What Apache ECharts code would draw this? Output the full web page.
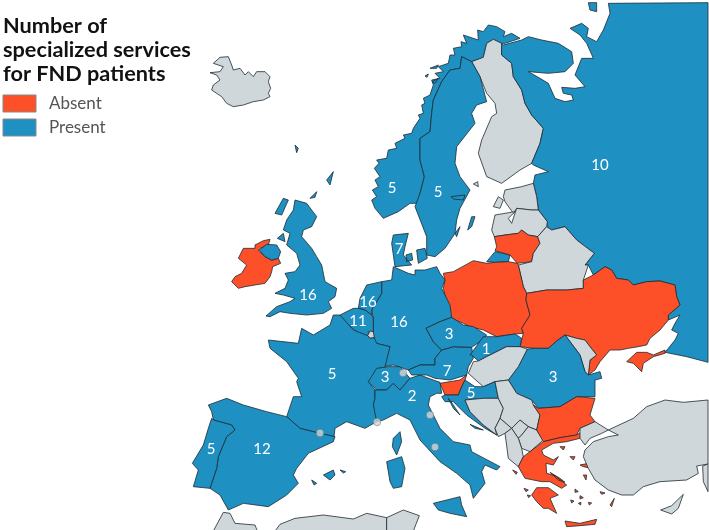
<!DOCTYPE html>
<html><head><meta charset="utf-8">
<style>html,body{margin:0;padding:0;background:#fff}#c{width:709px;height:530px}</style>
<script src="https://cdn.jsdelivr.net/npm/echarts@6/dist/echarts.min.js"></script>
</head><body><div id="c"></div>
<script>
// ---- values ----
const absentCountries = ['Ireland','Poland','Lithuania','Ukraine','Crimea','Slovenia','Bulgaria','Greece'];
const presentCountries = ['Norway','Sweden','Russia','Denmark','United Kingdom','Netherlands','Belgium','Germany','Czechia','Slovakia','Austria','Switzerland','Italy','France','Spain','Portugal','Croatia','Romania'];
const presentCounts = [5,5,10,7,16,16,11,16,3,1,7,3,2,5,12,5,5,3];
const legendLabels = ['Absent','Present'];
const titleLines = ['Number of','specialized services','for FND patients'];
const microstates = ['Liechtenstein','Monaco','Andorra','San Marino','Vatican'];

// ---- traced outlines (map geometry) : each segment is "crop: x,y x,y" in zoom-crop coordinates
const crops = {1:[0,0],2:[355,0],3:[180,265],4:[420,265],5:[340,230]};
function ring(segs){const out=[];segs.forEach(s=>{const [k,r]=s.split(':');const o=crops[k];
  r.trim().split(/\s+/).forEach(t=>{const [x,y]=t.split(',').map(Number);out.push([o[0]+x/3,530-(o[1]+y/3)]);});});
  if(out.length)out.push(out[0]);return [out];}
const shapes = {
 'Iceland':{r:[['1:640,190 660,172 685,170 695,195 700,210 720,205 735,225 745,215 760,230 770,215 795,215 810,230 805,245 812,265 805,280 810,290 790,300 760,305 730,315 700,320 680,310 665,290 635,270 640,255 660,240 650,225 630,218 660,215 670,200']]},
 'Ireland':{r:[['1:765,735 790,722 810,718 805,735 780,745 775,752 795,770 815,781 835,775 842,790','3:278,5 275,20 270,35 255,55 225,60 195,65 175,70 155,50 165,35 185,25 200,0','1:715,775 730,745 765,745']]},
 'Northern Ireland':{r:[['1:778,750 800,733 830,735 842,755 835,775 815,780 795,770']]},
 'United Kingdom':{cp:[308,295],r:[['1:885,600 920,610 950,650 935,680 910,690 905,710 935,745 950,770 965,795','3:435,50 470,70 465,95 445,110 455,130 430,145 380,150 330,145 300,140 270,155 258,153 290,125 330,110 345,100 310,90 285,85 315,70 325,45 315,25 345,20 360,0','1:890,760 860,735 870,700 850,690 860,660 880,630'],['1:825,640 850,595 865,600 845,645'],['1:930,595 950,575 945,592'],['1:980,540 1000,515 990,555'],['1:885,435 895,445 890,458'],['1:832,715 850,700 855,725']]},
 'Norway':{cp:[392,188],r:[['2:50,600 65,590 52,570 70,560 60,540 75,530 58,505 72,490 65,480 95,475 100,450 125,445 120,430 150,415 145,405 170,400 175,385 195,355 190,345 205,340 200,315 210,310 205,295 225,285 235,255 230,240 255,235 240,220 265,215 250,200 280,190 285,165 300,165 295,145 320,140 318,125 335,130 325,105 370,120 368,90 385,95 400,75 425,80 450,95 445,110 470,100 495,115 450,130 440,130 415,118 395,130 385,172 350,185 320,170 315,205 285,210 260,245 235,300 230,340 225,395 195,415 195,480 208,530 195,580 190,610 165,610 130,635 85,655 60,625'],['2:225,205 250,195 245,205'],['2:210,228 220,222 216,232'],['2:232,245 250,235 240,250']]},
 'Finland':{r:[['2:395,130 415,118 440,130 440,165 470,190 475,230 500,270 510,310 530,345 565,385 555,430 530,490 495,510 440,550 395,530 370,460 380,420 410,350 425,340 420,310 395,280 375,230 350,185 385,172'],['2:355,552 368,545 370,560']]},
 'Sweden':{cp:[438,192],r:[['2:320,170 350,185 375,230 395,305 365,315 350,340 360,370 305,440 300,490 315,530 345,570 315,625 305,660 300,700 270,745 240,770 215,765 215,710 180,620 195,580 208,530 195,480 195,415 225,395 230,340 235,300 260,245 285,210 315,205'],['2:338,690 350,650 360,650 350,680'],['2:288,590 330,585 325,600 295,597'],['2:300,700 315,680 305,710']]},
 'Russia':{cp:[600,165],r:[['2:445,135 500,120 520,110 560,120 610,130 650,155 655,190 630,215 580,220 520,215 555,235 580,250 600,295 630,305 655,300 650,285 625,280 620,262 660,265 690,260 660,225 680,175 715,175 695,130 675,105 645,85 680,70 700,85 695,110 725,125 745,90 765,40 760,10 1059,8','4:864,292 800,275 735,262 745,250 765,225 775,205 755,195 765,175 780,150 745,165 745,150 780,120 770,95 765,60 720,48 680,50 640,60 625,45 590,40 575,15 555,5 520,30 505,0','2:690,795 718,760 665,720 630,680 590,690 575,680 577,665 550,630 545,590 535,550 540,525 580,515 535,495 530,490 555,430 565,385 530,345 510,310 500,270 475,230 470,190 440,165 440,130'],['2:700,8 725,8 725,35 705,30'],['5:440,95 465,65 510,75 505,95 465,97']]},
 'Estonia':{r:[['2:445,590 450,570 500,560 535,550 545,590 550,630 530,630 485,625 475,640 450,605'],['2:415,620 430,590 445,600 435,625']]},
 'Latvia':{r:[['2:410,690 420,645 480,635 460,655 470,670 485,625 530,630 550,630 577,665 575,680 548,710 520,705 500,690 490,700 450,705 418,710']]},
 'Lithuania':{r:[['2:418,710 450,705 490,700 500,690 520,705 548,710 555,730 535,760 530,785','5:532,100 510,75 465,62','2:425,740']]},
 'Belarus':{r:[['2:548,710 575,680 590,690 630,680 665,720 718,760 690,795','4:505,0 490,45 490,70 440,75 380,75 320,85 310,65 295,0','2:530,785 535,760 555,730']]},
 'Poland':{r:[['5:310,130 340,125 400,92 440,100 465,97 505,95 532,100','4:295,0 310,65 320,85 318,105 330,150 305,190 310,205 285,207 230,215 190,195 150,185 130,175 85,155 90,130 80,110 70,70 75,45']]},
 'Ukraine':{r:[['4:490,45 520,30 555,5 575,15 590,40 625,45 640,60 680,50 720,48 765,60 770,95 780,120 745,150 745,165 720,195 690,220 680,240 655,245 625,250 600,255 570,255 540,290 525,315 505,330 510,285 530,270 510,245 495,225 470,220 435,210 410,228 385,250 345,250 300,245 310,205 305,190 330,150 318,105 320,85 380,75 440,75 490,70']]},
 'Crimea':{r:[['4:620,290 650,262 680,262 700,270 735,255 735,265 700,275 670,295 665,320 640,295']]},
 'Moldova':{r:[['4:435,210 470,220 495,225 510,245 530,270 510,285 505,330 495,320 480,270']]},
 'Romania':{cp:[553,377],r:[['4:265,345 295,305 322,252 345,250 385,250 410,228 435,210 480,270 495,320 505,330 540,320 545,340 525,345 525,395 470,395 420,425 355,430 335,405 290,385']]},
 'Denmark':{cp:[399,249],r:[['5:155,40 160,15 205,10 195,50 190,75 215,105 165,110'],['5:230,60 255,55 262,85 235,100'],['5:198,75 215,70 218,90 200,95']]},
 'Germany':{cp:[399,322],r:[['5:160,110 205,130 225,135 225,120 255,120 290,110 300,130 315,150 305,175 330,225 335,262 300,275 258,295 280,335 305,360 285,385 285,405 240,405 205,420 160,405 130,410 150,350 105,340 100,310 100,265 95,240 125,190 125,155 155,150']]},
 'Netherlands':{cp:[368,302],r:[['5:60,205 80,165 125,155 125,190 95,240 95,255 75,240 55,235']]},
 'Belgium':{cp:[358,321],r:[['5:0,255 40,235 55,235 75,240 95,255 100,265 100,310 85,305 85,325 70,320 50,305 25,285 5,268']]},
 'Luxembourg':{r:[['3:570,198 580,200 583,218 570,220 563,212']]},
 'France':{cp:[332,374],r:[['3:460,150 480,150 520,195 563,212 570,220 583,218 590,235 630,245 615,305 590,345 565,350 585,375 585,400 580,420 590,445 590,470 555,490 500,470 465,490 462,515 420,505 360,490 320,455 340,395 365,395 350,350 355,340 320,290 270,250 265,225 355,235 365,190 400,210 450,180']]},
 'Switzerland':{cp:[385,377],r:[['3:565,350 590,310 625,305 660,305 690,340 660,375 640,355 620,375 590,375']]},
 'Italy':{cp:[412,396],r:[['3:585,375 620,375 640,355 660,375 690,340 720,330 760,345','4:60,352 65,385 50,385 30,395 25,420 60,490 100,530 150,540 155,560 240,605 230,615 195,600 185,620 195,655 160,700 150,660 110,625 60,590 0,525','3:690,465 650,445 610,465 590,470 580,420 585,400'],['4:40,715 120,695 125,720 140,755 90,745 55,735'],['3:620,590 665,575 675,610 665,665 640,670 630,650']]},
 'Corsica':{r:[['3:640,520 660,500 665,530 650,570 637,545']]},
 'Spain':{cp:[262,449],r:[['3:85,420 140,400 190,420 260,440 320,455 360,490 420,505 465,515 460,530 385,565 350,610 340,630 355,655 320,690 265,725 190,715 145,735 120,690 90,670 110,610 115,575 140,515 165,495 155,480 100,465 95,440'],['3:430,630 460,615 465,630 450,645'],['3:480,615 497,620 490,624'],['3:395,645 410,655 402,660']]},
 'Portugal':{cp:[211,449],r:[['3:95,460 100,465 155,480 165,495 140,515 115,575 110,610 90,670 40,665 55,615 37,595 70,540 85,490']]},
 'Austria':{cp:[447,371],r:[['5:285,385 305,360 340,350 395,352 400,385 385,410 380,435 330,450 285,445 260,435 215,435 205,420 240,405 285,405']]},
 'Czechia':{cp:[449,334],r:[['5:258,295 300,275 335,262 370,285 400,290 440,315 420,335 395,352 340,350 305,360 280,335']]},
 'Slovakia':{cp:[486,349],r:[['4:150,270 190,215 230,215 285,207 305,220 300,245 260,245 200,275 175,288 155,270']]},
 'Hungary':{r:[['4:145,325 160,290 175,288 200,275 260,245 300,245 322,252 295,305 265,345 225,350 190,365']]},
 'Slovenia':{r:[['4:60,355 120,345 140,330 135,345 125,365 115,390 75,390']]},
 'Croatia':{cp:[471,393],r:[['4:65,395 75,390 115,390 125,365 135,345 165,365 190,365 225,350 235,400 190,400 135,405 150,440 190,480 230,510 195,490 140,450 100,410 75,410'],['4:85,400 100,420 120,450 100,430'],['4:150,478 190,495 165,490']]},
 'Bosnia':{r:[['4:135,405 190,400 235,400 250,430 240,460 225,490 230,510 190,480 150,440']]},
 'Serbia':{r:[['4:225,350 265,345 290,385 335,405 340,420 360,450 350,495 325,485 300,465 275,490 240,460 250,430 235,400']]},
 'Montenegro':{r:[['4:225,490 240,460 275,490 255,505 235,515']]},
 'Kosovo':{r:[['4:275,490 300,465 325,485 305,510 295,520']]},
 'North Macedonia':{r:[['4:295,520 305,510 325,485 350,495 370,525 330,560 305,550']]},
 'Albania':{r:[['4:255,505 275,490 295,520 305,550 310,575 295,605 265,580']]},
 'Bulgaria':{r:[['4:340,420 355,430 420,425 470,395 525,400 510,450 525,470 480,490 470,510 420,518 370,530 350,495 360,450']]},
 'Greece':{r:[['4:310,575 330,560 370,530 420,518 470,510 485,500 480,520 440,530 400,535 365,555 370,570 400,585 415,575 400,600 378,595 380,625 405,632 440,660 425,670 390,650 365,650 315,640 295,605'],['4:335,690 350,668 385,668 415,690 390,700 410,745 385,730 370,730 350,710'],['4:435,768 480,775 530,763 525,778 480,782 440,785'],['4:480,600 505,595 505,608 490,605'],['4:490,630 500,630 498,645'],['4:450,575 465,575 460,585'],['4:420,545 435,545 430,555'],['4:390,622 420,640 435,652 415,645'],['4:570,720 583,700 575,725'],['4:465,672 475,680 465,682'],['4:480,692 490,698 480,702'],['4:452,705 462,708 455,714'],['4:505,712 515,714 508,720'],['4:312,670 325,675 318,680'],['4:322,690 332,692 326,698'],['4:540,680 555,684 545,688'],['4:475,715 483,712 482,720'],['4:278,615 292,622 288,628']]},
 'Turkey':{r:[['4:495,555 520,530 565,515 595,510 565,495 640,460 680,425 735,405 790,412 864,405 864,597 830,603 835,625 800,645 720,650 670,665 640,690 605,690 565,675 525,645 505,610 490,575'],['4:480,490 525,470 565,495 545,505 510,520 495,540 480,520']]},
 'Syria':{r:[['4:848,603 864,597 864,680 850,650']]},
 'Cyprus':{r:[['4:722,735 755,722 790,688 775,730 755,747']]},
 'Morocco':{r:[['3:100,798 130,742 150,745 165,775 225,780 232,798']]},
 'Algeria':{r:[['3:285,798 300,778 345,760 430,750 520,762 560,745 620,758 620,798']]},
 'Tunisia':{r:[['3:620,758 670,735 718,752 700,798 620,798']]}
};
const microPos = {Liechtenstein:[403,373],Monaco:[377,422],Andorra:[320,433],'San Marino':[430,415],Vatican:[435,447]};

const features = Object.keys(shapes).map(n=>{
  const s=shapes[n];
  const props={name:n}; if(s.cp)props.cp=[s.cp[0],530-s.cp[1]];
  return {type:'Feature',properties:props,geometry:{type:'MultiPolygon',coordinates:s.r.map(ring)}};
});
echarts.registerMap('europe',{type:'FeatureCollection',features});

const chart=echarts.init(document.getElementById('c'),null,{renderer:'canvas'});
const seriesData=[
  ...absentCountries.map(n=>({name:n,value:0,label:{show:false}})),
  ...presentCountries.map((n,i)=>({name:n,value:1,count:presentCounts[i]})),
  {name:'Northern Ireland',value:1,label:{show:false}},
  {name:'Corsica',value:1,label:{show:false}}
];
const view={boundingCoords:[[0,530],[709,0]],aspectScale:1,layoutCenter:['50%','50%'],layoutSize:709,roam:false,silent:true};
chart.setOption({
  animation:false,
  backgroundColor:'#fff',
  title:{text:titleLines.join('\n'),left:3,top:14,padding:0,textStyle:{fontFamily:'Lato',fontWeight:'bold',fontSize:21.7,lineHeight:24,color:'#111'}},
  visualMap:{type:'piecewise',seriesIndex:0,orient:'vertical',left:3,top:95,padding:0,inverse:true,itemWidth:33,itemHeight:17,itemGap:7,textGap:13,itemSymbol:'rect',
    selectedMode:false,
    pieces:[{value:0,label:legendLabels[0],color:'#FD5028'},{value:1,label:legendLabels[1],color:'#1F90C2'}],
    textStyle:{fontFamily:'Lato',fontSize:17,color:'#555'}},
  graphic:[0,1].map(i=>({type:'rect',z:100,silent:true,shape:{x:3,y:95+i*24,width:33,height:17},style:{fill:'none',stroke:'#888',lineWidth:1}})),
  geo:{map:'europe',...view,itemStyle:{areaColor:'transparent',borderWidth:0},label:{show:false},emphasis:{disabled:true}},
  series:[
   {type:'map',map:'europe',...view,
    data:seriesData,
    itemStyle:{areaColor:'#D0D7DA',borderColor:'#1d2b33',borderWidth:0.8},
    label:{show:true,color:'#fff',fontFamily:'Lato',fontSize:15,
      formatter:p=>(p.data&&p.data.count!=null)?String(p.data.count):''},
    emphasis:{disabled:true},select:{disabled:true}},
   {type:'scatter',coordinateSystem:'geo',geoIndex:0,silent:true,symbol:'circle',symbolSize:7.5,z:5,
    data:microstates.map(n=>({name:n,value:[microPos[n][0],530-microPos[n][1]]})),
    itemStyle:{color:'#D0D7DA',borderColor:'#666',borderWidth:0.6}}
  ]
});
</script></body></html>
